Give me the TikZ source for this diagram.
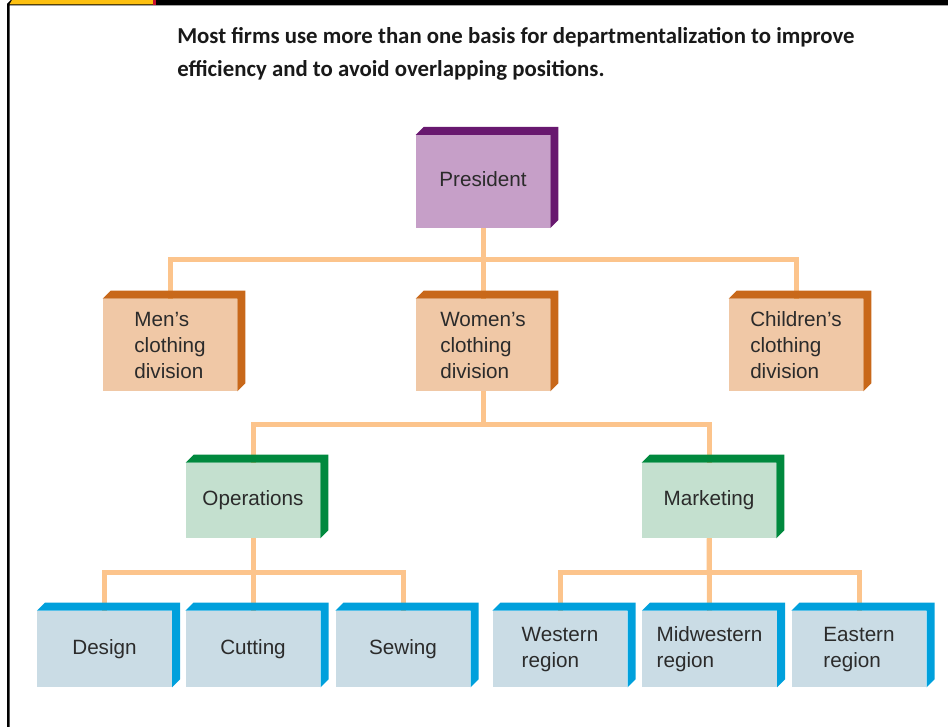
\documentclass[tikz,border=0pt]{standalone}
\usepackage{fontspec}
\setmainfont{Liberation Sans}
\newfontfamily\headfont{Carlito}
\usetikzlibrary{calc,backgrounds}
\definecolor{presface}{HTML}{C69FC8}
\definecolor{presside}{HTML}{68186F}
\definecolor{divface}{HTML}{F0C8A6}
\definecolor{divside}{HTML}{C8681A}
\definecolor{funcface}{HTML}{C4E0CF}
\definecolor{funcside}{HTML}{00893E}
\definecolor{unitface}{HTML}{CADCE5}
\definecolor{unitside}{HTML}{00A0DC}
\definecolor{linkcol}{HTML}{FCC48C}
\definecolor{labelcol}{HTML}{2B2B2B}
\definecolor{tabyellow}{HTML}{FDC010}
\definecolor{tabred}{HTML}{C8102E}
\def\sidefaces[#1](#2){\fill[#1] (#2.north west) -- ++(8,-8) -- ($(#2.north east)+(8,-8)$) -- ($(#2.south east)+(8,-8)$) -- (#2.south east) -- (#2.north east) -- cycle;}
\def\twolines#1#2{\raisebox{-3pt}{\begin{tabular}{@{}l@{}}#1\\#2\end{tabular}}}
\tikzset{
  box/.style={inner sep=0pt, align=left, text=labelcol, font=\fontsize{15.5}{19.5}\selectfont},
  presbox/.style={box, fill=presface, minimum width=100.5pt, minimum height=69.5pt},
  divbox/.style={box, fill=divface, minimum width=100.5pt, minimum height=69pt},
  funcbox/.style={box, fill=funcface, minimum width=100.5pt, minimum height=56.25pt},
  unitbox/.style={box, fill=unitface, minimum width=101pt, minimum height=57pt},
  link/.style={draw=linkcol, line width=3.75pt}
}

\begin{document}
\begin{tikzpicture}[x=0.75pt,y=-0.75pt]
		%%%%% FRAME %%%%%
		\useasboundingbox (0,0) rectangle (948,727);
		\fill[black] (7,727) -- (7,4) -- (11,0) -- (948,0) -- (948,5.5) -- (9.5,5.5) -- (9.5,727) -- cycle;
		\fill[tabyellow] (12,0) -- (153,0) -- (153,4.3) -- (9.5,4.3) -- cycle;
		\fill[tabred] (153,0) rectangle (156,5.5);
		
		\node[anchor=north west, inner sep=0pt, align=left, text=black!90,
		  font=\headfont\bfseries\fontsize{17.1}{24.75}\selectfont] (title) at (177,27)
		  {Most firms use more than one basis for departmentalization to improve\\efficiency and to avoid overlapping positions.};
		
		%%%%% BOXES %%%%%
		\node[presbox] (pres) at (483,181.5) {\raisebox{3pt}{President}};
		
		\node[divbox] (men) at (170,345) {Men’s\\clothing\\division};
		\node[divbox] (women) at (483,345) {Women’s\\clothing\\division};
		\node[divbox] (children) at (796,345) {Children’s\\clothing\\division};
		
		\node[funcbox] (ops) at (253,500.5) {Operations};
		\node[funcbox] (mkt) at (709,500.5) {Marketing};
		
		\node[unitbox] (design) at (104.5,649) {Design};
		\node[unitbox] (cutting) at (253,649) {Cutting};
		\node[unitbox] (sewing) at (403,649) {Sewing};
		\node[unitbox] (western) at (560,649) {\twolines{Western}{region}};
		\node[unitbox] (midwest) at (709.5,649) {\twolines{Midwestern}{region}};
		\node[unitbox] (eastern) at (859,649) {\twolines{Eastern}{region}};
		
		\sidefaces[presside](pres)
		\foreach \n in {men,women,children} {\sidefaces[divside](\n)}
		\foreach \n in {ops,mkt} {\sidefaces[funcside](\n)}
		\foreach \n in {design,cutting,sewing,western,midwest,eastern} {\sidefaces[unitside](\n)}
		
		%%%%% LINKS %%%%%
		\begin{scope}[on background layer]
		\draw[link] (pres.south) -- ++(0,31) -| (men.north);
		\draw[link] (pres.south) -- ++(0,31) -| (children.north);
		\draw[link] (pres.south) -- (women.north);
		
		\draw[link] (women.south) -- ++(0,33) -| (ops.north);
		\draw[link] (women.south) -- ++(0,33) -| (mkt.north);
		
		\draw[link] (ops.south) -- ++(0,34) -| (design.north);
		\draw[link] (ops.south) -- ++(0,34) -| (sewing.north);
		\draw[link] (ops.south) -- (cutting.north);
		
		\draw[link] (mkt.south) -- ++(0,34) -| (western.north);
		\draw[link] (mkt.south) -- ++(0,34) -| (eastern.north);
		\draw[link] (mkt.south) -- (midwest.north);
		\end{scope}
\end{tikzpicture}
\end{document}
